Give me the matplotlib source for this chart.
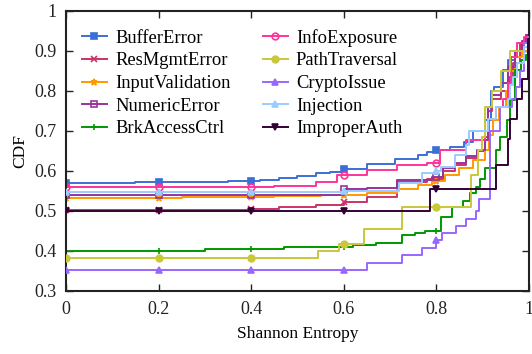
import numpy as np
import matplotlib
matplotlib.use('Agg')
import matplotlib.pyplot as plt

plt.rcParams['font.family'] = ['Liberation Serif', 'DejaVu Serif']

# step CDF breakpoints: (entropy, cdf)
names = ['BufferError', 'ResMgmtError', 'InputValidation', 'NumericError',
         'BrkAccessCtrl', 'InfoExposure', 'PathTraversal', 'CryptoIssue',
         'Injection', 'ImproperAuth']

buffer_x = [0, 0.15, 0.35, 0.42, 0.46, 0.50, 0.54, 0.57, 0.60, 0.65, 0.71, 0.76, 0.78, 0.80,
            0.83, 0.86, 0.88, 0.905, 0.918, 0.925, 0.944, 0.955, 0.97, 0.985, 0.998]
buffer_y = [0.570, 0.572, 0.575, 0.578, 0.582, 0.588, 0.594, 0.598, 0.604, 0.618, 0.630, 0.640,
            0.647, 0.652, 0.660, 0.672, 0.700, 0.727, 0.800, 0.810, 0.852, 0.877, 0.900, 0.920, 0.935]

resmgmt_x = [0, 0.25, 0.40, 0.46, 0.54, 0.60, 0.65, 0.715, 0.78, 0.815, 0.84, 0.865, 0.887,
             0.905, 0.912, 0.92, 0.94, 0.958, 0.965, 0.98, 0.995]
resmgmt_y = [0.502, 0.503, 0.505, 0.511, 0.515, 0.522, 0.536, 0.573, 0.580, 0.600, 0.615, 0.633,
             0.650, 0.686, 0.750, 0.780, 0.800, 0.835, 0.870, 0.920, 0.940]

inputval_x = [0, 0.25, 0.45, 0.55, 0.65, 0.715, 0.76, 0.79, 0.82, 0.85, 0.88, 0.905, 0.915,
              0.922, 0.935, 0.95, 0.955, 0.97, 0.985, 0.998]
inputval_y = [0.533, 0.535, 0.538, 0.540, 0.545, 0.554, 0.565, 0.575, 0.590, 0.607, 0.627, 0.652,
              0.690, 0.727, 0.760, 0.800, 0.850, 0.885, 0.900, 0.920]

numeric_x = [0, 0.60, 0.65, 0.715, 0.79, 0.815, 0.84, 0.865, 0.887, 0.905, 0.912, 0.92, 0.94,
             0.955, 0.97, 0.985, 0.995]
numeric_y = [0.540, 0.554, 0.557, 0.577, 0.585, 0.607, 0.620, 0.637, 0.652, 0.677, 0.760, 0.790,
             0.820, 0.860, 0.900, 0.925, 0.940]

brkaccess_x = [0, 0.30, 0.47, 0.62, 0.67, 0.725, 0.755, 0.775, 0.81, 0.835, 0.857, 0.872, 0.886,
               0.894, 0.905, 0.93, 0.937, 0.952, 0.959, 0.97, 0.984, 0.995, 0.999]
brkaccess_y = [0.400, 0.405, 0.410, 0.415, 0.420, 0.440, 0.445, 0.450, 0.485, 0.510, 0.525, 0.545,
               0.560, 0.580, 0.607, 0.652, 0.686, 0.727, 0.777, 0.852, 0.877, 0.890, 0.910]

infoexp_x = [0, 0.45, 0.54, 0.585, 0.65, 0.715, 0.78, 0.808, 0.865, 0.905, 0.915, 0.93, 0.945,
             0.955, 0.962, 0.974, 0.99]
infoexp_y = [0.560, 0.562, 0.573, 0.590, 0.602, 0.615, 0.620, 0.652, 0.677, 0.700, 0.730, 0.760,
             0.780, 0.820, 0.885, 0.920, 0.935]

pathtrav_x = [0, 0.545, 0.59, 0.644, 0.725, 0.875, 0.876, 0.89, 0.898, 0.905, 0.92, 0.94, 0.96, 0.99]
pathtrav_y = [0.382, 0.400, 0.418, 0.455, 0.510, 0.564, 0.590, 0.652, 0.686, 0.760, 0.800, 0.850,
              0.900, 0.920]

crypto_x = [0, 0.651, 0.725, 0.769, 0.80, 0.813, 0.842, 0.864, 0.886, 0.893, 0.916, 0.937, 0.963,
            0.973, 0.98, 0.99, 0.998]
crypto_y = [0.352, 0.370, 0.389, 0.408, 0.427, 0.445, 0.462, 0.480, 0.500, 0.530, 0.700, 0.760,
            0.780, 0.810, 0.850, 0.920, 0.935]

injection_x = [0, 0.60, 0.72, 0.77, 0.80, 0.81, 0.84, 0.865, 0.87, 0.912, 0.93, 0.955, 0.96,
               0.966, 0.975, 0.99, 0.998]
injection_y = [0.547, 0.550, 0.571, 0.595, 0.600, 0.610, 0.640, 0.665, 0.700, 0.730, 0.760, 0.780,
               0.815, 0.835, 0.870, 0.910, 0.930]

improper_x = [0, 0.786, 0.93, 0.955, 0.96, 0.975, 0.985, 0.998]
improper_y = [0.500, 0.555, 0.615, 0.680, 0.730, 0.780, 0.830, 0.930]

series_x = [buffer_x, resmgmt_x, inputval_x, numeric_x, brkaccess_x,
            infoexp_x, pathtrav_x, crypto_x, injection_x, improper_x]
series_y = [buffer_y, resmgmt_y, inputval_y, numeric_y, brkaccess_y,
            infoexp_y, pathtrav_y, crypto_y, injection_y, improper_y]

colors = ['#3b6fd6', '#cc3366', '#ff9900', '#993399', '#009900',
          '#ff3399', '#c8c83a', '#9966ff', '#99ccff', '#330033']
markers = ['s', 'x', '*', 's', '+', 'o', 'o', '^', '^', 'v']
filled = [True, True, True, False, True, False, True, True, True, True]

mark_x = [0, 0.2, 0.4, 0.6, 0.8]

fig = plt.figure(figsize=(5.32, 3.54), dpi=100)
ax = fig.add_axes([0.124, 0.178, 0.870, 0.791])

for i in range(len(names)):
    xs = np.array(series_x[i] + [1.0])
    ys = np.array(series_y[i] + [series_y[i][-1]])
    ax.plot(xs, ys, drawstyle='steps-post', color=colors[i], lw=1.4, zorder=2 + i * 0.1)
    idx = np.searchsorted(xs, mark_x, side='right') - 1
    mfc = colors[i] if filled[i] else 'none'
    ax.plot(mark_x, ys[idx], ls='none', marker=markers[i], color=colors[i],
            mfc=mfc, mec=colors[i], ms=4.8, mew=1.2, zorder=2 + i * 0.1)
    # legend proxy
    ax.plot([], [], color=colors[i], lw=1.4, marker=markers[i], mfc=mfc,
            mec=colors[i], ms=4.8, mew=1.2, label=names[i])

ax.set_xlim(0, 1)
ax.set_ylim(0.3, 1)
ax.set_xticks([0, 0.2, 0.4, 0.6, 0.8, 1])
ax.set_xticklabels(['0', '0.2', '0.4', '0.6', '0.8', '1'])
ax.set_yticks([0.3, 0.4, 0.5, 0.6, 0.7, 0.8, 0.9, 1])
ax.set_yticklabels(['0.3', '0.4', '0.5', '0.6', '0.7', '0.8', '0.9', '1'])
ax.tick_params(direction='in', top=True, right=True, length=5, width=1,
               labelsize=13, pad=7, colors='#222222')
for s in ax.spines.values():
    s.set_linewidth(1.5)
    s.set_color('#222222')

ax.set_xlabel('Shannon Entropy', fontsize=12.5, labelpad=6)
ax.set_ylabel('CDF', fontsize=12.5, labelpad=4)

handles, labels = ax.get_legend_handles_labels()
ax.legend(handles, labels, ncol=2, loc='upper left', bbox_to_anchor=(0.01, 0.975),
          frameon=False, fontsize=13.3, handlelength=1.35, handletextpad=0.45,
          columnspacing=1.75, labelspacing=0.3, borderaxespad=0.2)

fig.savefig('out.png', dpi=100)
